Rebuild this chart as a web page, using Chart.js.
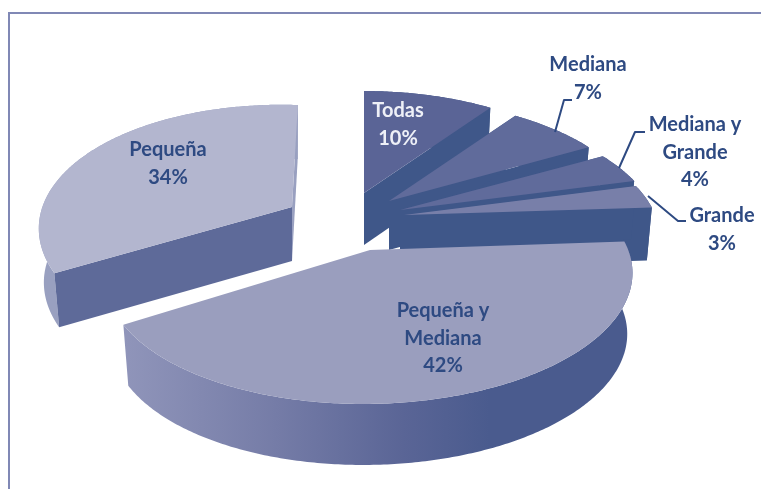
<!DOCTYPE html>
<html>
<head>
<meta charset="utf-8">
<script src="https://cdn.jsdelivr.net/npm/chart.js@4"></script>
<style>
html,body{margin:0;padding:0;background:#fff}
#wrap{position:relative;width:761px;height:489px;overflow:hidden}
canvas{display:block;filter:blur(0.45px)}
</style>
</head>
<body>
<div id="wrap"><canvas id="c" width="761" height="489"></canvas></div>
<script>
// ---- data ----
const categories = ["Todas", "Mediana", "Mediana y Grande", "Grande", "Pequeña y Mediana", "Pequeña"];
const shares = [10, 7, 4, 3, 42, 34];

// ---- text ----
const labelLines = [["Todas"], ["Mediana"], ["Mediana y", "Grande"], ["Grande"], ["Pequeña y", "Mediana"], ["Pequeña"]];

// ---- styling ----
const topColors  = ["#5a6496", "#606b9b", "#606b9b", "#787fa9", "#9a9ebe", "#b3b6cf"];
const wallColors = ["#3f5789", "#3f5789", "#3f5789", "#3f5789", "#4a5b8e", "#99a0c0"];
const cutColors  = ["#3f5789", "#3f5789", "#3f5789", "#3f5789", null, "#5e6a99"];
const textColor = "#2e4a82";

// perspective view: each slice is pulled away from the pie centre
const view = {h: 0.203, a: 254, d: 122.7, shrink: 0.98};
const sliceViews = [
  {x: 364, y: 193, depth: 52, b: 0,  c: 0, k: 0.985},
  {x: 389, y: 201, depth: 49, b: 0,  c: 0, k: 0.985},
  {x: 400, y: 210, depth: 40, b: 0,  c: 0, k: 1},
  {x: 404, y: 215, depth: 53, b: 0,  c: 0, k: 0.99},
  {x: 370, y: 250, depth: 61, b: -4, c: -1, k: 1.015},
  {x: 292, y: 207, depth: 54, b: -7, c: 8, k: 0.97}
];
const labelSpots = [
  {x: 398, y: 111, color: "#eef0f7"},
  {x: 588, y: 65},
  {x: 695, y: 125},
  {x: 722, y: 216},
  {x: 443, y: 311},
  {x: 168, y: 150}
];
const leaders = [
  null,
  [[555,132],[564,100],[572,100]],
  [[619,168],[635,132],[645,132]],
  [[648,196],[678,221],[686,221]],
  null,
  null
];

function project(s, theta, lower) {
  const u = Math.sin(theta), v = -Math.cos(theta);
  const w = 1 - view.h * v;
  let dx = (view.a * s.k * u + s.b * v) / w;
  let dy = (view.d * v + s.c * u) / w;
  if (lower) { dx *= view.shrink; dy += s.depth; }
  return [s.x + dx, s.y + dy];
}
function poly(ctx, pts, fill) {
  ctx.beginPath();
  pts.forEach((p, i) => i ? ctx.lineTo(p[0], p[1]) : ctx.moveTo(p[0], p[1]));
  ctx.closePath();
  ctx.fillStyle = fill;
  ctx.fill();
}

const pie3d = {
  id: "pie3d",
  beforeDatasetDraw() { return false; },
  afterDatasetsDraw(chart) {
    const ctx = chart.ctx;
    const arcs = chart.getDatasetMeta(0).data;
    ctx.save();
    // frame
    ctx.strokeStyle = "#8088b5";
    ctx.lineWidth = 2;
    ctx.beginPath();
    ctx.moveTo(9, 489); ctx.lineTo(9, 13); ctx.lineTo(761, 13);
    ctx.stroke();

    arcs.forEach((arc, i) => {
      const s = sliceViews[i];
      const t0 = arc.startAngle + Math.PI / 2, t1 = arc.endAngle + Math.PI / 2;
      const n = Math.max(8, Math.round((t1 - t0) * 90));
      const upper = [], lower = [];
      for (let k = 0; k <= n; k++) {
        const t = t0 + (t1 - t0) * k / n;
        upper.push(project(s, t, false));
        lower.push(project(s, t, true));
      }
      const apex = [s.x, s.y], apexLow = [s.x, s.y + s.depth];
      let wall = wallColors[i];
      if (i === 4) {
        const g = ctx.createLinearGradient(123, 0, 632, 0);
        g.addColorStop(0, "#9095ba");
        g.addColorStop(0.3, "#757ca7");
        g.addColorStop(0.55, "#5a6596");
        g.addColorStop(0.72, "#4a5b8e");
        g.addColorStop(1, "#4a5b8e");
        wall = g;
      }
      // outer wall
      poly(ctx, upper.concat(lower.slice().reverse()), wall);
      // cut faces
      if (cutColors[i]) {
        poly(ctx, [apex, upper[n], lower[n], apexLow], i === 5 ? wallColors[5] : cutColors[i]);
        poly(ctx, [apex, upper[0], lower[0], apexLow], cutColors[i]);
      }
      // top face
      poly(ctx, [apex].concat(upper), topColors[i]);
    });

    // leader lines
    ctx.strokeStyle = textColor;
    ctx.lineWidth = 2;
    ctx.lineJoin = "round";
    leaders.forEach(l => {
      if (!l) return;
      ctx.beginPath();
      l.forEach((p, k) => k ? ctx.lineTo(p[0], p[1]) : ctx.moveTo(p[0], p[1]));
      ctx.stroke();
    });

    // labels
    ctx.font = "bold 20px Lato, 'Open Sans', sans-serif";
    ctx.textAlign = "center";
    ctx.textBaseline = "middle";
    const data = chart.data.datasets[0].data;
    labelLines.forEach((lines, i) => {
      const spot = labelSpots[i];
      ctx.fillStyle = spot.color || textColor;
      const all = lines.concat([data[i] + "%"]);
      all.forEach((t, k) => ctx.fillText(t, spot.x, spot.y + k * 27.5));
    });
    ctx.restore();
  }
};

new Chart(document.getElementById("c"), {
  type: "pie",
  data: {
    labels: categories,
    datasets: [{data: shares, backgroundColor: topColors, borderWidth: 0}]
  },
  options: {
    responsive: false,
    animation: false,
    plugins: {legend: {display: false}, tooltip: {enabled: false}}
  },
  plugins: [pie3d]
});
</script>
</body>
</html>
